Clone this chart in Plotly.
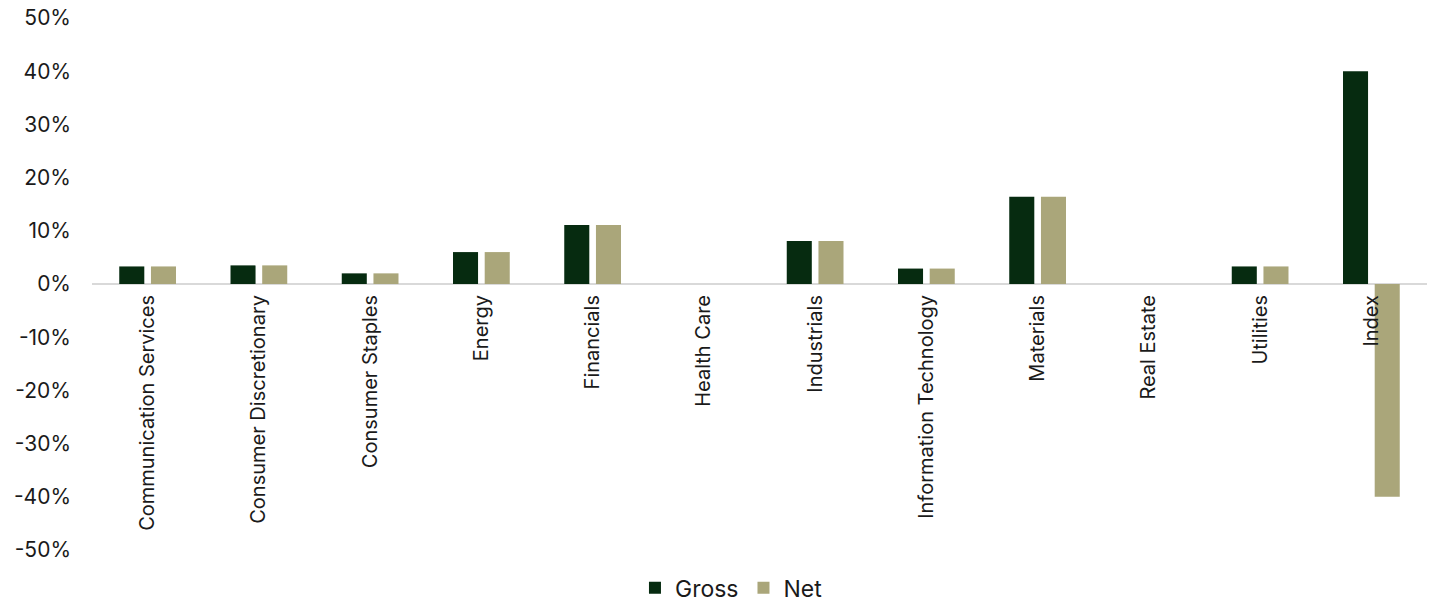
import plotly.graph_objects as go

categories = ["Communication Services", "Consumer Discretionary", "Consumer Staples", "Energy",
              "Financials", "Health Care", "Industrials", "Information Technology",
              "Materials", "Real Estate", "Utilities", "Index"]
gross = [3.3, 3.5, 2.0, 6.0, 11.1, 0.0, 8.1, 2.9, 16.4, 0.0, 3.3, 40.0]
net = [3.3, 3.5, 2.0, 6.0, 11.1, 0.0, 8.1, 2.9, 16.4, 0.0, 3.3, -40.0]
y_ticks = [-50, -40, -30, -20, -10, 0, 10, 20, 30, 40, 50]
y_labels = [f"{v}%" for v in y_ticks]

GROSS_COLOR = "#062b10"
NET_COLOR = "#aaa67a"
FONT = "Inter, Lato, sans-serif"

fig = go.Figure()
fig.add_trace(go.Bar(name="Gross", x=categories, y=gross, marker_color=GROSS_COLOR,
                     marker_line_width=0))
fig.add_trace(go.Bar(name="Net", x=categories, y=net, marker_color=NET_COLOR,
                     marker_line_width=0))

fig.update_layout(
    width=1433, height=606,
    margin=dict(l=92, r=6, t=18, b=56, autoexpand=False),
    paper_bgcolor="white", plot_bgcolor="white",
    barmode="group", bargap=0.43, bargroupgap=0.21,
    font=dict(family=FONT, color="#1a1a1a"),
    showlegend=True,
    legend=dict(orientation="h", x=0.479, xanchor="center",
                yref="container", y=0.03, yanchor="middle",
                font=dict(size=23, family=FONT, color="#1a1a1a"),
                itemsizing="constant", traceorder="normal"),
)
fig.update_xaxes(
    anchor="free", position=0.5,
    tickangle=-90, tickfont=dict(size=20, family=FONT, color="#1a1a1a"),
    showgrid=False, showline=False, ticks="", ticklabelstandoff=6,
)
fig.update_yaxes(
    range=[-50, 50], tickvals=y_ticks, ticktext=y_labels,
    tickfont=dict(size=21, family=FONT, color="#1a1a1a"),
    showgrid=False, zeroline=True, zerolinecolor="#d9d9d9", zerolinewidth=2,
    showline=False, ticks="", ticklabelstandoff=20,
)

fig.write_html("out.html")
